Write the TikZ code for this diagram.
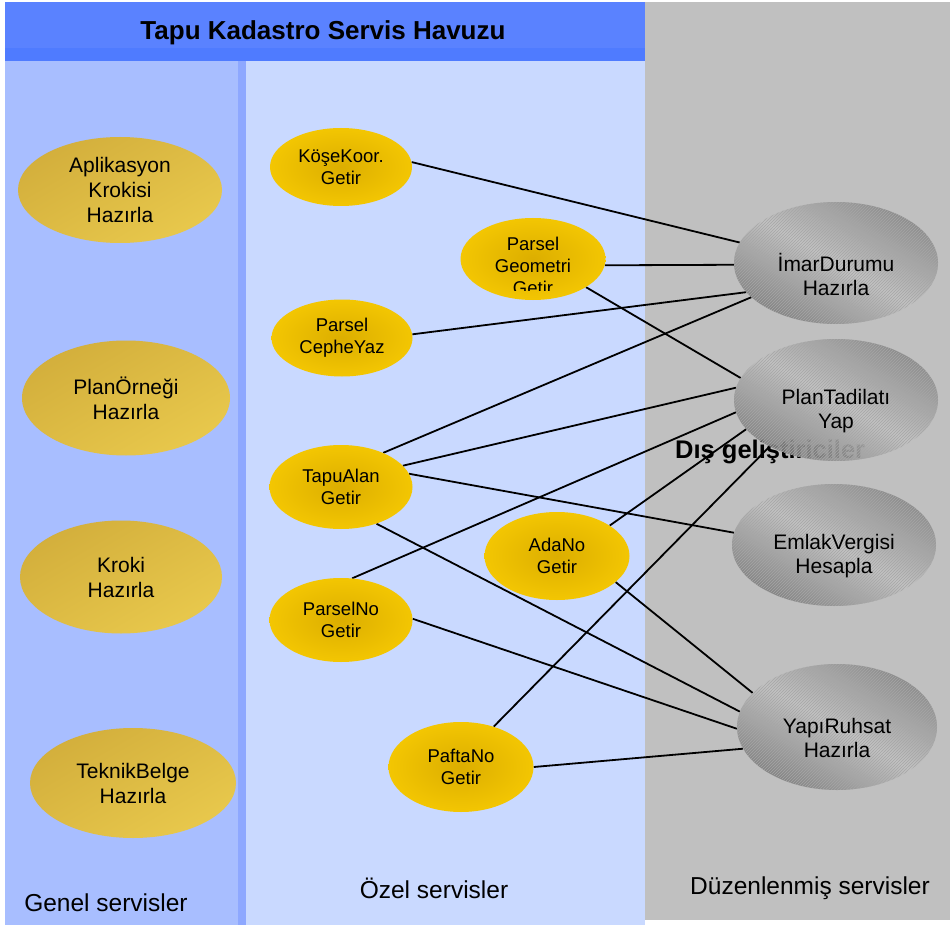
\documentclass[tikz,border=0pt]{standalone}
\usepackage{fontspec}
\setmainfont{Liberation Sans}
\usetikzlibrary{shapes.geometric,patterns}
\pgfdeclarelayer{bg}
\pgfdeclarelayer{wires}
\pgfsetlayers{bg,wires,main}
\definecolor{hdr}{HTML}{5A82FF}
\definecolor{hdrband}{HTML}{4F7BFF}
\definecolor{leftcol}{HTML}{A8BEFF}
\definecolor{stripcol}{HTML}{8EA8FF}
\definecolor{midcol}{HTML}{C9D9FF}
\definecolor{graycol}{HTML}{C0C0C0}
\definecolor{goldA}{HTML}{D3AF3C}
\definecolor{goldB}{HTML}{E8C84C}
\definecolor{goldC}{HTML}{F3C602}
\definecolor{goldD}{HTML}{DCAE00}
\definecolor{metalDark}{HTML}{858585}
\definecolor{metalDarker}{HTML}{7A7A7A}
\definecolor{metalLight}{HTML}{C4C4C4}
\tikzset{
  genel/.style={ellipse, inner sep=0pt, left color=goldA, right color=goldB, shading angle=30,
    align=center, font=\fontsize{21}{25}\selectfont},
  ozel/.style={ellipse, inner sep=0pt, inner color=goldD, outer color=goldC,
    align=center, font=\fontsize{18.5}{22}\selectfont},
  duz/.style={ellipse, inner sep=0pt, left color=metalDark, right color=metalDarker, middle color=metalLight,
    shading angle=-30, fill opacity=0.88, text opacity=1, minimum width=204pt, minimum height=122pt,
    postaction={pattern=north east lines, pattern color=black!35}},
  duztext/.style={align=center, font=\fontsize{21}{24}\selectfont, fill opacity=1, text opacity=1, yshift=-11pt},
  lbl/.style={inner sep=0pt, font=\fontsize{24.5}{28}\selectfont},
  conn/.style={line width=1.8pt, black}
}
\begin{document}
\begin{tikzpicture}[x=1pt,y=-1pt]
\useasboundingbox (0,0) rectangle (950,925);
\begin{pgfonlayer}{bg}
  \fill[white] (0,0) rectangle (950,925);
  \fill[graycol] (645,2) rectangle (950,920);
  \fill[leftcol] (5,61) rectangle (238,925);
  \fill[stripcol] (238,61) rectangle (246,925);
  \fill[midcol] (246,61) rectangle (645,925);
  \fill[hdr] (5,2) rectangle (645,61);
  \fill[hdrband] (5,48) rectangle (645,61);
  \node[inner sep=0pt, anchor=base west, font=\bfseries\fontsize{25.5}{29}\selectfont] (dis) at (675,458) {Dış geliştiriciler};
\end{pgfonlayer}

\node[inner sep=0pt, anchor=base, font=\bfseries\fontsize{26}{30}\selectfont] (title) at (323,40) {Tapu Kadastro Servis Havuzu};
\node[lbl, anchor=base] (genel) at (106,911) {Genel servisler};
\node[lbl, anchor=base] (ozel) at (434,898) {Özel servisler};
\node[lbl, anchor=base] (duzen) at (810,894) {Düzenlenmiş servisler};

% Genel servisler
\node[genel, minimum width=204pt, minimum height=106pt] (ap) at (120,190) {Aplikasyon\\Krokisi\\Hazırla};
\node[genel, minimum width=208pt, minimum height=115pt] (po) at (126,398) {PlanÖrneği\\Hazırla};
\node[genel, minimum width=202pt, minimum height=113pt] (kr) at (121,577) {Kroki\\Hazırla};
\node[genel, minimum width=206pt, minimum height=110pt] (tb) at (133,783) {TeknikBelge\\Hazırla};

% Ozel servisler
\node[ozel, minimum width=142pt, minimum height=78pt] (kk) at (341,167) {KöşeKoor.\\Getir};
\node[ozel, minimum width=145pt, minimum height=82pt] (pg) at (533,259) {};
\begin{scope}
  \clip (455,210) rectangle (615,291);
  \node[inner sep=0pt, align=center, font=\fontsize{18.5}{22}\selectfont] (pgt) at (533,266) {Parsel\\Geometri\\Getir};
\end{scope}
\node[ozel, minimum width=141pt, minimum height=77pt] (pc) at (342,338) {Parsel\\CepheYaz};
\node[ozel, minimum width=143pt, minimum height=84pt] (ta) at (341,487) {TapuAlan\\Getir};
\node[ozel, minimum width=145pt, minimum height=88pt] (ad) at (557,556) {AdaNo\\Getir};
\node[ozel, minimum width=143pt, minimum height=84pt] (pn) at (341,620) {ParselNo\\Getir};
\node[ozel, minimum width=145pt, minimum height=90pt] (pf) at (461,767) {PaftaNo\\Getir};

% Duzenlenmis servisler
\node[duz, label={[duztext]center:{İmarDurumu\\Hazırla}}] (im) at (836,263) {};
\node[duz, label={[duztext]center:{PlanTadilatı\\Yap}}] (pt) at (836,400) {};
\node[duz, label={[duztext]center:{EmlakVergisi\\Hesapla}}] (ev) at (834,545) {};
\node[duz, minimum width=200pt, minimum height=126pt, label={[duztext]center:{YapıRuhsat\\Hazırla}}] (yr) at (837,727) {};

\begin{pgfonlayer}{wires}
  \draw[conn] (kk.4) -- (im.168.5);
  \draw[conn] (pg.-5.5) -- (im.181.7);
  \draw[conn] (pg.-28) -- (pt.167.4);
  \draw[conn] (pc.3.2) -- (im.198);
  \draw[conn] (ta.39.7) -- (im.202.9);
  \draw[conn] (ta.19.4) -- (pt.173.7);
  \draw[conn] (pn.75.7) -- (pt.187);
  \draw[conn] (ad.30.1) -- (pt.198.2);
  \draw[conn] (pf.51.3) -- (pt.215.5);
  \draw[conn] (ta.11.8) -- (ev.173.1);
  \draw[conn] (ta.-46.6) -- (yr.171.9);
  \draw[conn] (pn.1.6) -- (yr.181.7);
  \draw[conn] (ad.-24.1) -- (yr.158.1);
  \draw[conn] (pf.0.8) -- (yr.193.4);
\end{pgfonlayer}
\end{tikzpicture}
\end{document}
